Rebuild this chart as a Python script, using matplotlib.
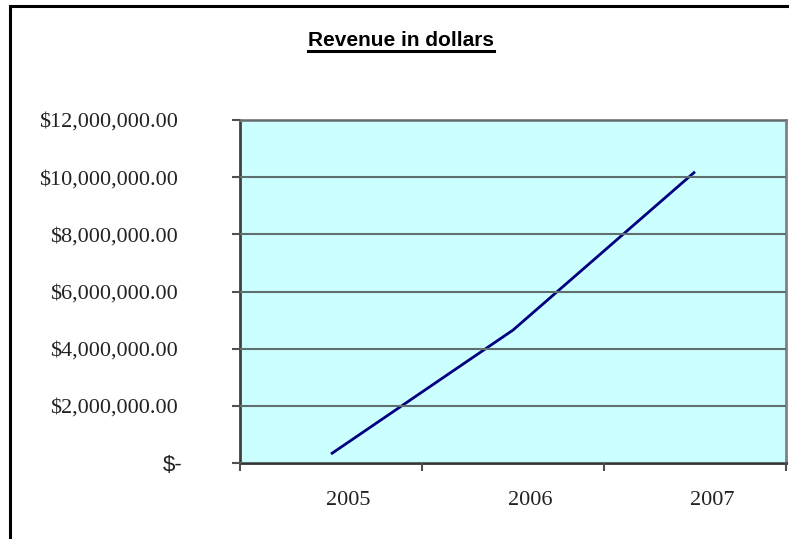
import matplotlib
matplotlib.use("Agg")
import matplotlib.pyplot as plt
import matplotlib.patches as mpatches
import matplotlib.transforms as mtransforms
from matplotlib.lines import Line2D

# ---- data ----
years = ["2005", "2006", "2007"]
revenue = [315000, 4650000, 10190000]
y_ticks = [0, 2000000, 4000000, 6000000, 8000000, 10000000, 12000000]
y_labels = ["$-", "$2,000,000.00", "$4,000,000.00", "$6,000,000.00",
            "$8,000,000.00", "$10,000,000.00", "$12,000,000.00"]
title = "Revenue in dollars"

W, H = 789, 539
fig = plt.figure(figsize=(W / 100, H / 100), dpi=100)
fig.patch.set_facecolor("white")

# outer chart border (extends beyond right/bottom edges)
border = mpatches.Rectangle((10 / W, -0.1), 1.2, 1 - 6 / H + 0.1,
                            transform=fig.transFigure, fill=False,
                            edgecolor="black", linewidth=2.2, clip_on=False)
fig.patches.append(border)

ax = fig.add_axes([240 / W, (H - 463) / H, 546 / W, 343 / H])
ax.set_facecolor("#CCFFFF")

x = list(range(len(years)))
ax.plot(x, revenue, color="#000080", linewidth=2, solid_capstyle="butt")

ax.set_xlim(-0.5, len(years) - 0.5)
ax.set_ylim(0, 12000000)

# y axis
ax.set_yticks(y_ticks)
ax.set_yticklabels(y_labels)
ax.yaxis.grid(True, color="#5f6e6e", linewidth=1.5)
ax.set_axisbelow(False)
ax.tick_params(axis="y", direction="out", length=8 * 0.72, width=1.5,
               color="#505050", pad=38.9, labelsize=16)
for lab in ax.get_yticklabels():
    if lab.get_text() == "$-":
        lab.set_fontfamily("Liberation Sans")
        lab.set_fontsize(16)
        lab.set_transform(lab.get_transform() +
                          mtransforms.ScaledTranslation(5 / 100, 0, fig.dpi_scale_trans))
    else:
        lab.set_fontfamily("Liberation Serif")
    lab.set_color("#222222")

# x axis: ticks at category boundaries, labels at centers
ax.set_xticks([i - 0.5 for i in range(len(years) + 1)])
ax.set_xticklabels([""] * (len(years) + 1))
ax.set_xticks(x, minor=True)
ax.set_xticklabels(years, minor=True)
ax.tick_params(axis="x", which="major", direction="out", length=8 * 0.72,
               width=1.5, color="#505050")
ax.tick_params(axis="x", which="minor", length=0, pad=20.5, labelsize=16)
for lab in ax.get_xticklabels(minor=True):
    lab.set_fontfamily("Liberation Serif")
    lab.set_color("#222222")
    lab.set_transform(lab.get_transform() +
                      mtransforms.ScaledTranslation(17 / 100, 0, fig.dpi_scale_trans))

for side in ["top", "right"]:
    ax.spines[side].set_color("#808080")
    ax.spines[side].set_linewidth(2)
ax.spines["left"].set_color("#404040")
ax.spines["left"].set_linewidth(2)
ax.spines["bottom"].set_color("#333333")
ax.spines["bottom"].set_linewidth(2)

# title with underline
t = fig.text(401 / W, 1 - 46 / H, title, ha="center", va="baseline",
             fontsize=15, fontweight="bold", family="Liberation Sans",
             color="black")
fig.canvas.draw()
bb = t.get_window_extent(renderer=fig.canvas.get_renderer())
uy = 1 - 50.5 / H
fig.lines.append(Line2D([bb.x0 / W, bb.x1 / W], [uy, uy],
                        transform=fig.transFigure, color="black",
                        linewidth=2.2))

fig.savefig("out.png", dpi=100, facecolor="white")
